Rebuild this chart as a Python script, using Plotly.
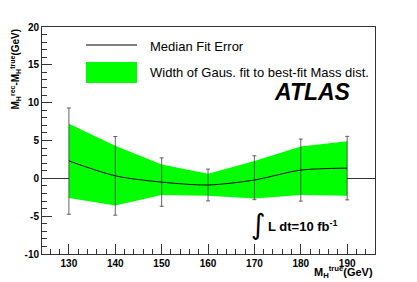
import plotly.graph_objects as go

# ---- data ----
mass = [130, 140, 150, 160, 170, 180, 190]
median = [2.3, 0.33, -0.5, -0.88, -0.22, 1.09, 1.35]
err_plus = [7.0, 5.2, 3.2, 2.1, 3.2, 4.1, 4.2]
err_minus = [7.05, 5.2, 3.2, 2.1, 2.6, 4.1, 4.2]
band_top = [7.2, 4.3, 1.83, 0.6, 2.28, 4.22, 4.9]
band_bottom = [-2.6, -3.6, -2.2, -2.3, -2.68, -2.2, -2.3]

x_ticks = [130, 140, 150, 160, 170, 180, 190]
y_ticks = [-10, -5, 0, 5, 10, 15, 20]

FONT = "Liberation Sans, Arial, Helvetica, sans-serif"
GREEN = "#00ff00"

fig = go.Figure()

# Gaussian width band
fig.add_trace(go.Scatter(
    x=mass + mass[::-1],
    y=band_top + band_bottom[::-1],
    fill="toself", fillcolor=GREEN, mode="none",
    line=dict(width=0), showlegend=False, hoverinfo="skip",
))

# error bars of median fit error
fig.add_trace(go.Scatter(
    x=mass, y=median, mode="markers",
    marker=dict(size=1, color="rgba(0,0,0,0)"),
    error_y=dict(type="data", symmetric=False, array=err_plus, arrayminus=err_minus,
                 color="rgba(50,50,50,0.75)", thickness=1, width=2),
    showlegend=False, hoverinfo="skip",
))

# median curve
fig.add_trace(go.Scatter(
    x=mass, y=median, mode="lines",
    line=dict(color="black", width=1, shape="spline", smoothing=0.8),
    showlegend=False, hoverinfo="skip",
))

L, R, T, B = 42, 42, 27, 28
W, H = 417, 282
pw, ph = W - L - R, H - T - B

def px(xp):
    return (xp - L) / pw

def py(yp):
    return (H - B - yp) / ph

shapes = [
    # legend samples
    dict(type="line", xref="paper", yref="paper", x0=px(86), x1=px(137), y0=py(45), y1=py(45),
         line=dict(color="black", width=1)),
    dict(type="rect", xref="paper", yref="paper", x0=px(86), x1=px(137), y0=py(83), y1=py(62),
         fillcolor=GREEN, line=dict(width=0)),
]

annotations = [
    dict(text="Median Fit Error", x=px(148), y=py(46), xref="paper", yref="paper",
         xanchor="left", yanchor="middle", showarrow=False,
         font=dict(family=FONT, size=13, color="black")),
    dict(text="Width of Gaus. fit to best-fit Mass dist.", x=px(148), y=py(72), xref="paper", yref="paper",
         xanchor="left", yanchor="middle", showarrow=False,
         font=dict(family=FONT, size=13, color="black")),
    dict(text="<b><i>ATLAS</i></b>", x=px(353), y=py(92), xref="paper", yref="paper",
         xanchor="right", yanchor="middle", showarrow=False,
         font=dict(family=FONT, size=23, color="black")),
    dict(text="∫", x=px(258), y=py(224), xref="paper", yref="paper",
         xanchor="center", yanchor="middle", showarrow=False,
         font=dict(family="DejaVu Sans", size=28, color="black")),
    dict(text="<b>L dt=10 fb<sup>-1</sup></b>", x=px(266), y=py(226), xref="paper", yref="paper",
         xanchor="left", yanchor="middle", showarrow=False,
         font=dict(family=FONT, size=13, color="black")),
    dict(text="<b>M<sub>H</sub><sup>rec</sup>-M<sub>H</sub><sup>true</sup>(GeV)</b>",
         x=px(15), y=py(27), xref="paper", yref="paper", textangle=-90,
         xanchor="center", yanchor="top", showarrow=False,
         font=dict(family=FONT, size=10, color="black")),
    dict(text="<b>M<sub>H</sub><sup>true</sup>(GeV)</b>",
         x=1.0, y=py(272), xref="paper", yref="paper",
         xanchor="right", yanchor="middle", showarrow=False,
         font=dict(family=FONT, size=11, color="black")),
]

fig.update_layout(
    width=W, height=H,
    margin=dict(l=L, r=R, t=T, b=B, pad=0),
    paper_bgcolor="white", plot_bgcolor="white",
    shapes=shapes, annotations=annotations,
    showlegend=False,
    font=dict(family=FONT, color="black"),
)

fig.update_xaxes(
    range=[124.2, 196], tickvals=x_ticks, ticktext=[str(v) for v in x_ticks],
    ticks="inside", ticklen=10, tickwidth=1, tickcolor="#333",
    minor=dict(dtick=2, tick0=130, ticks="inside", ticklen=5, tickcolor="#333"),
    showline=True, linecolor="#333", linewidth=1, mirror=True,
    showgrid=False, zeroline=False,
    tickfont=dict(family=FONT, size=10, weight="bold", color="black"),
)
fig.update_yaxes(
    range=[-10, 20], tickvals=y_ticks, ticktext=[str(v) for v in y_ticks],
    ticks="inside", ticklen=10, tickwidth=1, tickcolor="#333",
    minor=dict(dtick=1, tick0=0, ticks="inside", ticklen=5, tickcolor="#333"),
    showline=True, linecolor="#333", linewidth=1, mirror=True,
    showgrid=False, zeroline=True, zerolinecolor="#333", zerolinewidth=1,
    tickfont=dict(family=FONT, size=10, weight="bold", color="black"),
)

fig.write_html("out.html", config={"displayModeBar": False},
               post_script="document.body.style.margin='0';")
